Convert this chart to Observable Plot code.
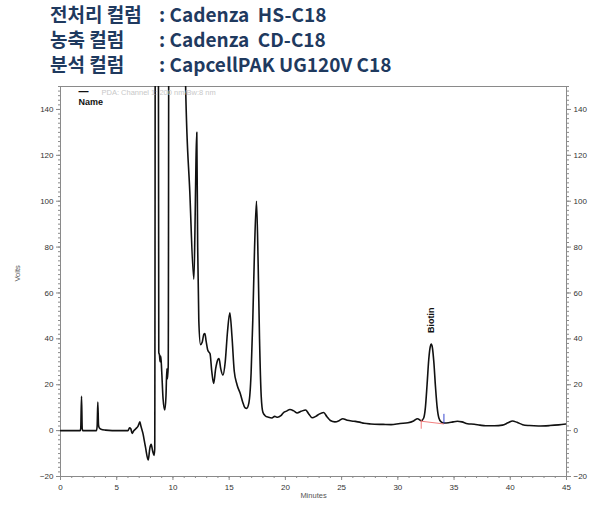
<!DOCTYPE html>
<html>
<head>
<meta charset="utf-8">
<script src="https://cdn.jsdelivr.net/npm/d3@7"></script>
<script src="https://cdn.jsdelivr.net/npm/@observablehq/plot@0.6"></script>
<style>
  body { margin: 0; background: #fff; width: 600px; }
  #title { position: relative; height: 80px; font-family: "Noto Sans CJK KR", "Noto Sans", sans-serif; font-weight: 700; font-size: 19px; color: #1f3a5f; }
  #title .row { position: absolute; left: 0; height: 28px; line-height: 28px; width: 600px; }
  #title .lab { position: absolute; left: 50px; }
  #title .val { position: absolute; left: 159px; white-space: pre; }
</style>
</head>
<body>
<div id="title"></div>
<div id="chart"></div>
<script>
// Title rows
const titleLabels = ["전처리 컬럼", "농축 컬럼", "분석 컬럼"];
const titleValues = [": Cadenza  HS-C18", ": Cadenza  CD-C18", ": CapcellPAK UG120V C18"];

// Chromatogram (minutes, volts); values above 150 are off-scale peaks
const times = [0,1.75,1.8,1.87,1.93,1.98,3.2,3.26,3.32,3.38,3.45,3.6,4.0,4.6,6.0,6.14,6.25,6.37,6.5,6.7,6.9,7.06,7.15,7.32,7.55,7.8,7.95,8.06,8.2,8.32,8.38,8.5,8.6,8.74,8.8,8.86,8.92,9.0,9.12,9.27,9.38,9.46,9.5,9.58,9.72,10.8,11.12,11.5,11.86,11.95,12.05,12.12,12.2,12.3,12.45,12.6,12.75,12.84,12.95,13.1,13.3,13.45,13.62,13.8,14.0,14.1,14.25,14.44,14.65,14.85,15.06,15.25,15.45,15.7,16.0,16.2,16.4,16.55,16.75,16.95,17.1,17.25,17.43,17.58,17.7,17.85,18.0,18.2,18.5,18.8,19.05,19.3,19.6,19.86,20.1,20.4,20.75,21.05,21.4,21.8,22.05,22.38,22.7,23.0,23.4,23.7,24.0,24.4,24.8,25.1,25.5,26.1,26.6,27.0,27.6,28.7,29.4,30.2,30.9,31.4,31.75,32.08,32.3,32.45,32.6,32.75,32.88,32.97,33.08,33.2,33.35,33.5,33.65,33.85,34.1,34.5,34.9,35.3,35.7,36.2,36.8,37.3,37.8,38.6,39.3,39.8,40.2,40.6,41.1,41.7,42.5,43.5,44.3,45];
const volts = [0,0,1,15,1,0,0,2,12.5,2.5,1.2,0.6,0.2,0,0,1.2,0.8,-1.2,-0.2,0.8,2,3.8,2,-1,-7,-12.8,-7.5,-6,-9,-10.8,-8,600,600,34,33,30,32.5,26,14,9,15,27,22.5,28,600,600,152,104,66,85,118,130,80,48,37.5,38.5,42,42.3,39,35,33.5,26,20.6,27,31,31.4,27,24.2,30,43,51.4,41,26,20,16,12.5,10,9.7,12,25,48,78,100,72,40,15,8,6.5,5.8,5.5,6.2,5.8,6.5,8,8.5,9.2,8.6,7.7,8.4,9,7.5,5.6,6.2,7.2,7.9,6,4.4,3.8,4.4,5.2,4.5,4.1,3.7,3.2,2.9,2.7,2.6,3.1,3.4,4.2,5.2,4.3,5.5,10,20,31,36.5,37.7,36,30,19,10,5.5,3.8,3.3,3.4,3.8,4.1,3.8,3.0,2.8,2.4,2.1,2.1,2.4,3.4,4.2,3.6,2.6,2.2,2.0,2.2,2.5,2.9];

// Peak annotation
const peakNames = ["Biotin"];
const peakTimes = [32.97];
const peakLabelY = [42.5];
// Integration baseline for Biotin (start / end)
const baseStart = [32.08, 4.1];
const baseEnd = [34.1, 2.9];

const xMajor = d3.range(0, 46, 5);
const xMinor = d3.range(0, 46, 1);
const yMajor = d3.range(-20, 141, 20);
const yMinor = d3.range(-20, 151, 2);

// Build title
const tEl = document.getElementById("title");
titleLabels.forEach((l, i) => {
  const row = document.createElement("div");
  row.className = "row";
  row.style.top = (0 + i * 25) + "px";
  row.innerHTML = `<span class="lab">${l}</span><span class="val">${titleValues[i]}</span>`;
  tEl.appendChild(row);
});

const data = times.map((t, i) => ({t, v: volts[i]}));
const axisCol = "#8a8a8a";
const textCol = "#333";

const chart = Plot.plot({
  width: 600,
  height: 426,
  marginLeft: 60,
  marginRight: 34,
  marginTop: 6,
  marginBottom: 30,
  style: {fontFamily: "Liberation Sans, Arial, sans-serif", fontSize: "8px", background: "#fff"},
  x: {domain: [0, 45]},
  y: {domain: [-20, 150]},
  marks: [
    Plot.axisY({anchor: "left", ticks: yMinor, tickSize: 2, text: null, label: null, stroke: axisCol}),
    Plot.axisY({anchor: "left", ticks: yMajor, tickSize: 4, tickPadding: 3, label: null, stroke: axisCol, fill: textCol, fontSize: 8}),
    Plot.axisY({anchor: "right", ticks: yMinor, tickSize: 2, text: null, label: null, stroke: axisCol}),
    Plot.axisY({anchor: "right", ticks: yMajor, tickSize: 4, tickPadding: 3, label: null, stroke: axisCol, fill: textCol, fontSize: 8}),
    Plot.axisX({ticks: xMinor, tickSize: 2, text: null, label: null, stroke: axisCol}),
    Plot.axisX({ticks: xMajor, tickSize: 4, tickPadding: 4, label: null, stroke: axisCol, fill: textCol, fontSize: 8}),
    Plot.frame({stroke: axisCol}),
    Plot.line(data, {x: "t", y: "v", stroke: "#111", strokeWidth: 1.6, curve: "monotone-x", clip: true}),
    Plot.link([0], {x1: () => baseStart[0], y1: () => baseStart[1], x2: () => baseEnd[0], y2: () => baseEnd[1], stroke: "#f07070", strokeWidth: 0.9}),
    Plot.ruleX([baseStart[0]], {y1: baseStart[1] - 3.5, y2: baseStart[1] + 0.5, stroke: "#f07070", strokeWidth: 0.9}),
    Plot.ruleX([baseEnd[0]], {y1: baseEnd[1], y2: baseEnd[1] + 4.2, stroke: "#2233cc", strokeWidth: 0.9}),
    Plot.text(peakNames, {x: (d, i) => peakTimes[i], y: (d, i) => peakLabelY[i], text: d => d, rotate: -90, textAnchor: "start", fontWeight: "bold", fontSize: 9, fill: "#111"}),
    Plot.text(["—"], {frameAnchor: "top-left", dx: 18, dy: 5, textAnchor: "start", lineAnchor: "middle", fontSize: 10, fontWeight: "bold", fill: "#111"}),
    Plot.text(["PDA: Channel 1: 200 nm/Bw:8 nm"], {frameAnchor: "top-left", dx: 41, dy: 6, textAnchor: "start", lineAnchor: "middle", fontSize: 7.5, fill: "#c8c8c8"}),
    Plot.text(["Name"], {frameAnchor: "top-left", dx: 18, dy: 16, textAnchor: "start", lineAnchor: "middle", fontSize: 9, fontWeight: "bold", fill: "#111"}),
    Plot.text(["Volts"], {frameAnchor: "left", dx: -43, rotate: -90, fontSize: 7.5, fill: "#555"}),
    Plot.text(["Minutes"], {frameAnchor: "bottom", dy: 21, fontSize: 7.5, fill: "#555"})
  ]
});
document.getElementById("chart").appendChild(chart);
</script>
</body>
</html>
